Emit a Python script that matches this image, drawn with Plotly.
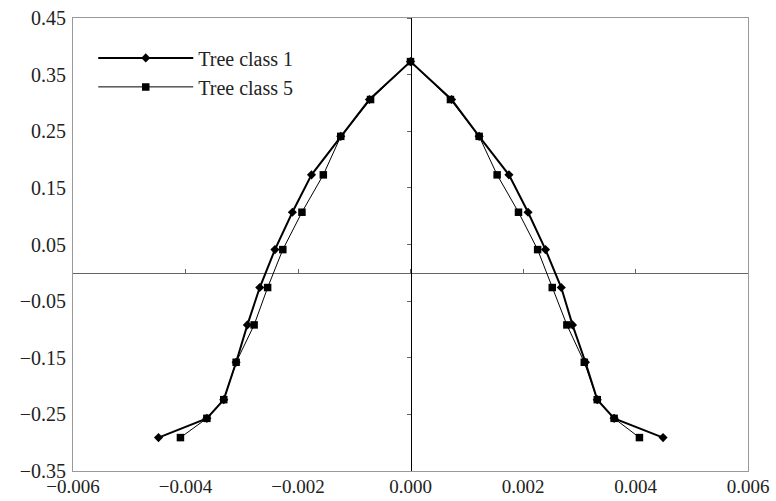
import plotly.graph_objects as go

# Data
y_levels = [-0.291, -0.257, -0.224, -0.158, -0.092, -0.026, 0.041, 0.107, 0.173, 0.241, 0.306, 0.373,
            0.306, 0.241, 0.173, 0.107, 0.041, -0.026, -0.092, -0.158, -0.224, -0.257, -0.291]
x_class1 = [-0.00448, -0.00362, -0.00332, -0.00310, -0.00290, -0.00268, -0.00241, -0.00210, -0.00176,
            -0.00124, -0.00073, 0.0, 0.00073, 0.00122, 0.00175, 0.00209, 0.00240, 0.00268, 0.00288,
            0.00311, 0.00332, 0.00362, 0.00449]
x_class5 = [-0.00409, -0.00362, -0.00332, -0.00310, -0.00278, -0.00254, -0.00227, -0.00193, -0.00155,
            -0.00124, -0.00071, 0.0, 0.00071, 0.00122, 0.00154, 0.00192, 0.00226, 0.00252, 0.00278,
            0.00309, 0.00332, 0.00362, 0.00407]
series_names = ["Tree class 1", "Tree class 5"]

x_range = [-0.006, 0.006]
y_range = [-0.35, 0.45]
x_ticks = [-0.006, -0.004, -0.002, 0.0, 0.002, 0.004, 0.006]
y_ticks = [0.45, 0.35, 0.25, 0.15, 0.05, -0.05, -0.15, -0.25, -0.35]

FONT = "Liberation Serif"
TICKFONT = dict(family=FONT, size=20, color="#222")
XTICKFONT = dict(family=FONT, size=19, color="#222")

fig = go.Figure()
fig.add_trace(go.Scatter(x=x_class1, y=y_levels, name=series_names[0], mode="lines+markers",
                         line=dict(color="black", width=2),
                         marker=dict(symbol="diamond", size=7, color="black")))
fig.add_trace(go.Scatter(x=x_class5, y=y_levels, name=series_names[1], mode="lines+markers",
                         line=dict(color="black", width=1),
                         marker=dict(symbol="square", size=7.5, color="black")))
# empty trace to bind the crossing (zero) axes
fig.add_trace(go.Scatter(x=[], y=[], xaxis="x2", yaxis="y2", showlegend=False, hoverinfo="skip"))

pos_x_axis = (0 - y_range[0]) / (y_range[1] - y_range[0])
pos_y_axis = (0 - x_range[0]) / (x_range[1] - x_range[0])

fig.update_layout(
    width=776, height=501,
    margin=dict(l=73, r=28, t=18, b=30, autoexpand=False),
    paper_bgcolor="white", plot_bgcolor="white",
    font=dict(family=FONT, size=20, color="#222"),
    xaxis=dict(range=x_range, tickvals=x_ticks, tickformat=".3f", showgrid=False, zeroline=False,
               showline=True, mirror=True, linecolor="#999", linewidth=1, ticks="",
               ticklabelstandoff=-2, tickfont=XTICKFONT, automargin=False),
    yaxis=dict(range=y_range, tickvals=y_ticks, tickformat=".2f", showgrid=False, zeroline=False,
               showline=True, mirror=True, linecolor="#999", linewidth=1, ticks="",
               ticklabelstandoff=2, tickfont=TICKFONT, automargin=False),
    xaxis2=dict(range=x_range, overlaying="x", anchor="free", position=pos_x_axis,
                tickvals=x_ticks, showticklabels=False, showgrid=False, zeroline=False,
                showline=True, linecolor="#666", linewidth=1, ticks="inside", ticklen=4,
                tickcolor="#666", layer="below traces", automargin=False),
    yaxis2=dict(range=y_range, overlaying="y", anchor="free", position=pos_y_axis,
                tickvals=y_ticks, showticklabels=False, showgrid=False, zeroline=False,
                showline=True, linecolor="black", linewidth=1, ticks="outside", ticklen=4,
                tickcolor="#666", layer="below traces", automargin=False),
    legend=dict(x=0.03, y=0.955, xanchor="left", yanchor="top", bgcolor="rgba(0,0,0,0)",
                itemwidth=95, tracegroupgap=0, font=dict(family=FONT, size=20, color="#222")),
    showlegend=True,
)

fig.write_html("out.html")
